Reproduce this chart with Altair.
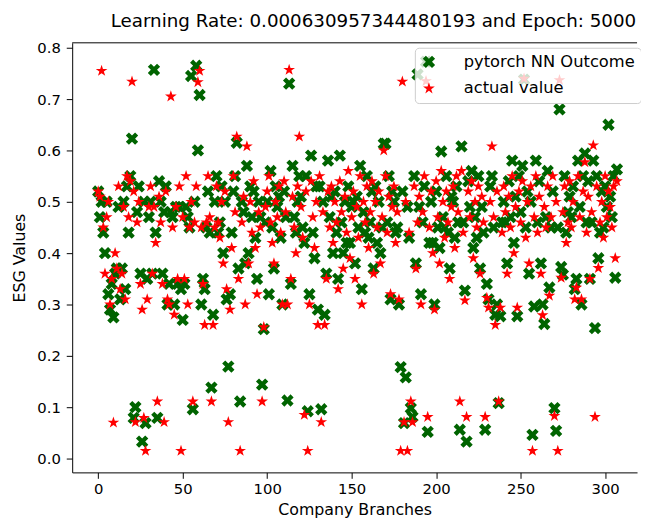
import altair as alt
import pandas as pd

# ESG values (index = company branch)
actual = [
    0.52, 0.51, 0.755, 0.45, 0.36, 0.47, 0.50, 0.30, 0.35, 0.07,
    0.40, 0.37, 0.53, 0.33, 0.36, 0.49, 0.31, 0.55, 0.47, 0.54,
    0.734, 0.52, 0.071, 0.46, 0.50, 0.34, 0.29, 0.079, 0.015, 0.31,
    0.49, 0.53, 0.36, 0.49, 0.42, 0.111, 0.51, 0.46, 0.34, 0.071,
    0.52, 0.31, 0.30, 0.705, 0.45, 0.28, 0.49, 0.35, 0.53, 0.015,
    0.47, 0.35, 0.55, 0.30, 0.45, 0.50, 0.111, 0.46, 0.53, 0.733,
    0.755, 0.45, 0.34, 0.26, 0.46, 0.55, 0.47, 0.111, 0.26, 0.45,
    0.53, 0.46, 0.43, 0.50, 0.38, 0.52, 0.33, 0.071, 0.29, 0.41,
    0.55, 0.48, 0.627, 0.35, 0.015, 0.46, 0.51, 0.30, 0.608, 0.38,
    0.50, 0.44, 0.54, 0.41, 0.32, 0.48, 0.45, 0.111, 0.256, 0.49,
    0.52, 0.55, 0.46, 0.42, 0.38, 0.50, 0.47, 0.53, 0.44, 0.30,
    0.54, 0.48, 0.30, 0.757, 0.35, 0.51, 0.45, 0.40, 0.53, 0.627,
    0.49, 0.43, 0.085, 0.52, 0.015, 0.30, 0.54, 0.47, 0.41, 0.50,
    0.26, 0.55, 0.071, 0.48, 0.26, 0.35, 0.52, 0.45, 0.53, 0.42,
    0.50, 0.46, 0.33, 0.54, 0.48, 0.37, 0.51, 0.44, 0.56, 0.39,
    0.47, 0.52, 0.35, 0.49, 0.43, 0.55, 0.30, 0.50, 0.46, 0.53,
    0.41, 0.48, 0.54, 0.36, 0.50, 0.45, 0.52, 0.38, 0.47, 0.60,
    0.55, 0.44, 0.51, 0.32, 0.49, 0.53, 0.42, 0.48, 0.31, 0.015,
    0.734, 0.071, 0.50, 0.015, 0.44, 0.111, 0.071, 0.53, 0.37, 0.46,
    0.51, 0.30, 0.48, 0.55, 0.735, 0.081, 0.45, 0.52, 0.40, 0.29,
    0.54, 0.47, 0.38, 0.56, 0.50, 0.43, 0.52, 0.46, 0.35, 0.49,
    0.53, 0.41, 0.55, 0.48, 0.111, 0.56, 0.44, 0.308, 0.081, 0.52,
    0.47, 0.54, 0.39, 0.50, 0.45, 0.53, 0.36, 0.51, 0.46, 0.081,
    0.313, 0.294, 0.50, 0.608, 0.47, 0.26, 0.52, 0.111, 0.294, 0.44,
    0.53, 0.48, 0.36, 0.51, 0.45, 0.55, 0.40, 0.49, 0.294, 0.52,
    0.46, 0.54, 0.74, 0.43, 0.50, 0.38, 0.53, 0.015, 0.47, 0.55,
    0.44, 0.51, 0.36, 0.279, 0.49, 0.45, 0.53, 0.317, 0.47, 0.55,
    0.083, 0.50, 0.015, 0.737, 0.352, 0.48, 0.53, 0.42, 0.46, 0.54,
    0.45, 0.50, 0.31, 0.333, 0.55, 0.47, 0.31, 0.52, 0.577, 0.44,
    0.51, 0.35, 0.48, 0.61, 0.081, 0.53, 0.371, 0.46, 0.50, 0.43,
    0.55, 0.47, 0.52, 0.49, 0.45, 0.53, 0.39, 0.54,
]

predicted = [
    0.52, 0.47, 0.50, 0.44, 0.40, 0.50, 0.32, 0.29, 0.34, 0.275,
    0.36, 0.37, 0.49, 0.31, 0.37, 0.50, 0.33, 0.53, 0.44, 0.55,
    0.623, 0.079, 0.10, 0.48, 0.53, 0.36, 0.033, 0.50, 0.069, 0.35,
    0.47, 0.50, 0.36, 0.757, 0.44, 0.079, 0.54, 0.50, 0.36, 0.48,
    0.53, 0.30, 0.34, 0.48, 0.47, 0.30, 0.49, 0.34, 0.49, 0.33,
    0.27, 0.34, 0.49, 0.47, 0.45, 0.745, 0.096, 0.50, 0.765, 0.60,
    0.708, 0.30, 0.35, 0.33, 0.45, 0.52, 0.44, 0.138, 0.28, 0.50,
    0.55, 0.44, 0.46, 0.53, 0.40, 0.50, 0.31, 0.179, 0.32, 0.44,
    0.52, 0.55, 0.615, 0.37, 0.111, 0.50, 0.48, 0.38, 0.57, 0.40,
    0.53, 0.47, 0.52, 0.43, 0.35, 0.50, 0.47, 0.144, 0.252, 0.46,
    0.50, 0.32, 0.56, 0.45, 0.37, 0.53, 0.49, 0.51, 0.43, 0.30,
    0.52, 0.47, 0.113, 0.73, 0.34, 0.57, 0.47, 0.44, 0.50, 0.55,
    0.51, 0.45, 0.42, 0.55, 0.092, 0.32, 0.59, 0.44, 0.39, 0.53,
    0.29, 0.53, 0.096, 0.50, 0.28, 0.36, 0.58, 0.47, 0.51, 0.40,
    0.52, 0.44, 0.35, 0.59, 0.46, 0.40, 0.50, 0.42, 0.53, 0.42,
    0.49, 0.50, 0.38, 0.51, 0.45, 0.57, 0.33, 0.48, 0.44, 0.55,
    0.43, 0.46, 0.52, 0.37, 0.53, 0.42, 0.50, 0.40, 0.45, 0.613,
    0.613, 0.46, 0.55, 0.31, 0.52, 0.50, 0.44, 0.45, 0.30, 0.178,
    0.52, 0.069, 0.158, 0.49, 0.43, 0.098, 0.081, 0.55, 0.38, 0.748,
    0.49, 0.32, 0.46, 0.53, 0.773, 0.052, 0.42, 0.50, 0.42, 0.30,
    0.52, 0.45, 0.41, 0.598, 0.47, 0.45, 0.55, 0.44, 0.37, 0.51,
    0.50, 0.43, 0.53, 0.46, 0.056, 0.608, 0.46, 0.327, 0.033, 0.54,
    0.49, 0.56, 0.41, 0.47, 0.43, 0.55, 0.37, 0.49, 0.44, 0.056,
    0.34, 0.31, 0.53, 0.55, 0.45, 0.28, 0.300, 0.108, 0.277, 0.46,
    0.50, 0.46, 0.38, 0.54, 0.47, 0.58, 0.42, 0.51, 0.277, 0.55,
    0.48, 0.57, 0.738, 0.45, 0.52, 0.36, 0.50, 0.046, 0.296, 0.58,
    0.46, 0.54, 0.38, 0.30, 0.262, 0.47, 0.56, 0.333, 0.45, 0.52,
    0.098, 0.054, 0.45, 0.68, 0.373, 0.358, 0.55, 0.44, 0.48, 0.51,
    0.47, 0.53, 0.33, 0.35, 0.58, 0.49, 0.30, 0.55, 0.594, 0.46,
    0.54, 0.35, 0.46, 0.58, 0.254, 0.55, 0.39, 0.44, 0.52, 0.45,
    0.53, 0.49, 0.65, 0.51, 0.47, 0.55, 0.352, 0.563,
]

series_names = ["pytorch NN Outcome", "actual value"]
x_ticks = [0, 50, 100, 150, 200, 250, 300]
y_ticks = [0.0, 0.1, 0.2, 0.3, 0.4, 0.5, 0.6, 0.7, 0.8]

rows = []
for i, v in enumerate(predicted):
    rows.append({"branch": i, "esg": v, "series": series_names[0], "ord": 0})
for i, v in enumerate(actual):
    rows.append({"branch": i, "esg": v, "series": series_names[1], "ord": 1})
df = pd.DataFrame(rows)

X_PATH = "M-0.5,-1L0,-0.5L0.5,-1L1,-0.5L0.5,0L1,0.5L0.5,1L0,0.5L-0.5,1L-1,0.5L-0.5,0L-1,-0.5Z"
STAR_PATH = ("M0,-1L0.225,-0.309L0.951,-0.309L0.363,0.118L0.588,0.809L0,0.382"
             "L-0.588,0.809L-0.363,0.118L-0.951,-0.309L-0.225,-0.309Z")

W, H = 572, 435
FONT = "DejaVu Sans"

points = alt.Chart(df).mark_point(filled=True, opacity=1, strokeWidth=0, size=156, clip=True).encode(
    x=alt.X("branch:Q",
            scale=alt.Scale(domain=[-15.4, 318.9], nice=False, zero=False),
            axis=alt.Axis(values=x_ticks, title="Company Branches", format="d",
                          labelFontSize=15, titleFontSize=16, labelPadding=3,
                          titlePadding=6, tickSize=6)),
    y=alt.Y("esg:Q",
            scale=alt.Scale(domain=[-0.027, 0.8096], nice=False, zero=False),
            axis=alt.Axis(values=y_ticks, title="ESG Values", format=".1f",
                          labelFontSize=15, titleFontSize=16, labelPadding=6,
                          titlePadding=9, tickSize=6)),
    color=alt.Color("series:N",
                    scale=alt.Scale(domain=series_names, range=["#006400", "#ff0000"]),
                    legend=alt.Legend(title=None, orient="none", legendX=347, legendY=5,
                                      labelFontSize=16.5, labelFont=FONT, labelLimit=400,
                                      symbolSize=156, symbolStrokeWidth=0, labelOffset=27,
                                      rowPadding=10, padding=6,
                                      fillColor="rgba(255,255,255,0.8)",
                                      strokeColor="#cccccc", cornerRadius=4)),
    shape=alt.Shape("series:N",
                    scale=alt.Scale(domain=series_names, range=[X_PATH, STAR_PATH])),
    order=alt.Order("ord:Q"),
)

top_spine = alt.Chart(alt.Data(values=[{}])).mark_rule(color="black", strokeWidth=1).encode(
    x=alt.value(0), x2=alt.value(W), y=alt.value(0)
)

chart = alt.layer(points, top_spine).properties(
    width=W, height=H,
    title=alt.TitleParams("Learning Rate: 0.000630957344480193 and Epoch: 5000",
                          fontSize=18.5, font=FONT, fontWeight="normal", anchor="middle",
                          offset=10, dx=19, color="black"),
    padding={"left": 65, "top": 32, "right": 4, "bottom": 48},
    autosize="none",
).configure_view(stroke=None).configure_axis(
    grid=False, domainColor="black", tickColor="black", labelColor="black",
    titleColor="black", labelFont=FONT, titleFont=FONT, titleFontWeight="normal",
    domainWidth=1, tickWidth=1,
)

chart.save("out.html", embed_options={"renderer": "svg", "actions": False})
